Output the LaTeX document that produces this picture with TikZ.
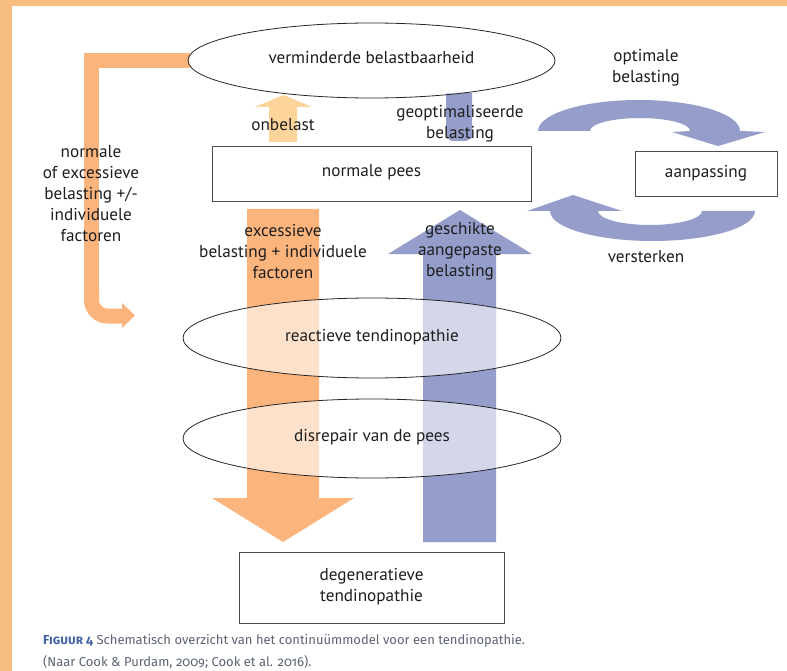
\documentclass[tikz,border=0pt]{standalone}
\usepackage{fontspec}
\setmainfont{PT Sans}
\newfontfamily\capfont[Numbers=OldStyle]{Fira Sans}
\usetikzlibrary{shapes.geometric}
\definecolor{framecol}{HTML}{F7BD7F}
\definecolor{orarrow}{HTML}{FCB47D}
\definecolor{yelarrow}{HTML}{FDD49A}
\definecolor{bluarrow}{HTML}{959DCB}
\definecolor{capblue}{HTML}{4565A8}
\definecolor{capgray}{HTML}{5C6473}
\definecolor{txt}{HTML}{1E1E1E}
\definecolor{boxline}{HTML}{4D4D4D}
\tikzset{
  lbl/.style={text=txt, align=center, inner sep=0pt},
  ellnode/.style={ellipse, draw=black!85, line width=0.8pt, fill=white, fill opacity=0.6, text opacity=1, text=txt, inner sep=0pt},
  boxnode/.style={rectangle, draw=boxline, line width=1pt, fill=white, text=txt, align=center, inner sep=0pt},
}
\begin{document}
\begin{tikzpicture}[x=1pt,y=-1pt, font=\fontsize{17.2}{20.8}\selectfont]
\useasboundingbox (0,0) rectangle (787,671);
\fill[framecol] (0,0) rectangle (787,671);
\fill[white] (12,6) rectangle (787,671);

% big arrows
\fill[orarrow] (247,209) -- (319,209) -- (319,498) -- (354,498) -- (283,542) -- (212,498) -- (247,498) -- cycle;
\fill[bluarrow] (423,542) -- (496,542) -- (496,254) -- (532,254) -- (460,210) -- (388,254) -- (423,254) -- cycle;
\fill[yelarrow] (269,142) -- (297,142) -- (297,107) -- (312,107) -- (283.5,95) -- (255,107) -- (269,107) -- cycle;
\fill[bluarrow] (446,93) -- (472,93) -- (472,138) -- (466,141) -- (452,141) -- (446,138) -- cycle;

% L-shaped orange arrow
\draw[orarrow, line width=15pt] (190,60.5) -- (91.5,60.5) -- (91.5,300);
\draw[orarrow, line width=15pt, rounded corners=16pt] (91.5,290) -- (91.5,316) -- (123,316);
\fill[orarrow] (122,303) -- (135,315.5) -- (122,328) -- cycle;

% curved arrows
\fill[bluarrow] (538,131) arc[start angle=180, end angle=360, x radius=101, y radius=31]
  -- (765,132) -- (718,146) -- (672,132) -- (690,131)
  arc[start angle=0, end angle=-180, x radius=50, y radius=13] -- cycle;
\fill[bluarrow] (755,211) arc[start angle=0, end angle=180, x radius=102.5, y radius=30]
  -- (527,211) -- (573,195) -- (622,211) -- (598,211)
  arc[start angle=180, end angle=0, x radius=52, y radius=14] -- cycle;

% ellipses
\node[ellnode, minimum width=367pt, minimum height=75pt] (vb) at (371.5,60.5) {};
\node[lbl] (vbt) at (371.5,58) {verminderde belastbaarheid};
\node[ellnode, minimum width=378pt, minimum height=80pt] (rt) at (372,338) {};
\node[lbl] (rtt) at (372,337) {reactieve tendinopathie};
\node[ellnode, minimum width=378pt, minimum height=79pt] (dr) at (372,438.5) {};
\node[lbl] (drt) at (372,437) {disrepair van de pees};

% boxes
\node[boxnode, minimum width=319pt, minimum height=55pt] (np) at (371.5,174.5) {};
\node[lbl] (npt) at (371.5,172) {normale pees};
\node[boxnode, minimum width=142pt, minimum height=45pt] (aan) at (706,174.5) {};
\node[lbl] (aant) at (706,173) {aanpassing};
\node[boxnode, minimum width=265pt, minimum height=71pt] (deg) at (371.5,587.5) {};
\node[lbl] (degt) at (371.5,587) {degeneratieve\\tendinopathie};

% labels
\node[lbl] (onb) at (283,125) {onbelast};
\node[lbl] (geo) at (460,123.5) {geoptimaliseerde\\belasting};
\node[lbl] (opt) at (646,68) {optimale\\belasting};
\node[lbl] (ver) at (646,257) {versterken};
\node[lbl] (nor) at (91,193.5) {normale\\of excessieve\\belasting +/-\\individuele\\factoren};
\node[lbl] (exc) at (283,251.5) {excessieve\\belasting + individuele\\factoren};
\node[lbl] (ges) at (460,251.5) {geschikte\\aangepaste\\belasting};

% caption
\node[anchor=base west, inner sep=0pt, font=\capfont\fontsize{13}{22}\selectfont, text=capgray] (cap1) at (43,644)
  {{\color{capblue}\bfseries\textsc{Figuur} 4} Schematisch overzicht van het continuümmodel voor een tendinopathie.};
\node[anchor=base west, inner sep=0pt, font=\capfont\fontsize{13}{22}\selectfont, text=capgray] (cap2) at (43,666)
  {(Naar Cook \& Purdam, 2009; Cook et al. 2016).};
\end{tikzpicture}
\end{document}
